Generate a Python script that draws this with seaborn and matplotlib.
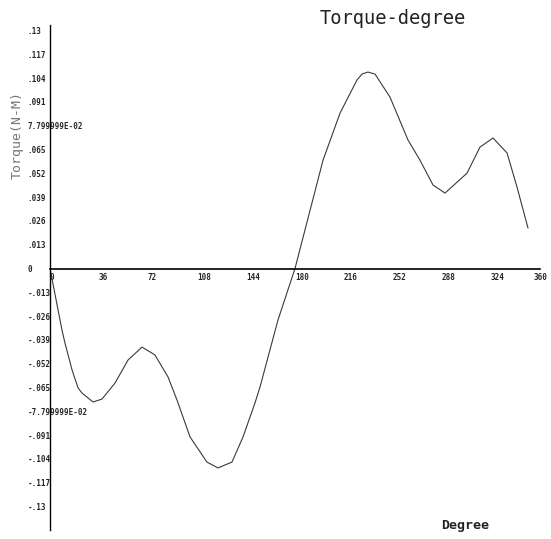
import numpy as np
import matplotlib.pyplot as plt
import seaborn as sns
import pandas as pd

# valores (grados, torque)
grados = [0, 8.8, 11.0, 16.2, 20.6, 23.5, 31.6, 38.2, 47.8, 57.3, 67.6, 77.1, 86.7,
          93.3, 102.9, 115.3, 123.4, 133.7, 141.8, 150.6, 154.3, 167.5, 180.0,
          200.6, 213.1, 225.5, 229.2, 233.6, 238.8, 249.8, 263.0, 271.8, 281.4, 290.2,
          306.4, 315.9, 325.5, 335.8, 343.1, 351.2]
torque = [0.0, -0.0336, -0.0407, -0.0554, -0.0652, -0.0680, -0.0729, -0.0713, -0.0625,
          -0.0500, -0.0429, -0.0472, -0.0592, -0.0718, -0.0920, -0.1057, -0.1089,
          -0.1057, -0.0920, -0.0734, -0.0647, -0.0281, 0.0,
          0.0592, 0.0849, 0.1029, 0.1062, 0.1073, 0.1062, 0.0936, 0.0702, 0.0592,
          0.0456, 0.0412, 0.0521, 0.0663, 0.0713, 0.0631, 0.0445, 0.0221]

xticks = [0, 36, 72, 108, 144, 180, 216, 252, 288, 324, 360]
yticks = [0.13, 0.117, 0.104, 0.091, 0.078, 0.065, 0.052, 0.039, 0.026, 0.013, 0,
          -0.013, -0.026, -0.039, -0.052, -0.065, -0.078, -0.091, -0.104, -0.117, -0.13]
ylabels = ['.13', '.117', '.104', '.091', '7.799999E-02', '.065', '.052', '.039', '.026', '.013', '0',
           '-.013', '-.026', '-.039', '-.052', '-.065', '-7.799999E-02', '-.091', '-.104', '-.117', '-.13']

df = pd.DataFrame({'Degree': grados, 'Torque': torque})

sns.set_style('white')
plt.rcParams['font.family'] = ['DejaVu Sans Mono']

fig = plt.figure(figsize=(5.51, 5.39), dpi=100)
ax = fig.add_axes([50 / 551, 1 - 530 / 539, 490 / 551, 505 / 539])

sns.lineplot(data=df, x='Degree', y='Torque', ax=ax, color='#3a3a3a', linewidth=0.8)

ax.set_xlim(0, 360)
ax.set_ylim(-0.1428, 0.133)

ax.spines['top'].set_visible(False)
ax.spines['right'].set_visible(False)
ax.spines['bottom'].set_position(('data', 0))
ax.spines['left'].set_color('black')
ax.spines['bottom'].set_color('black')
ax.spines['left'].set_linewidth(1.0)
ax.spines['bottom'].set_linewidth(1.2)

ax.set_xticks(xticks)
ax.set_xticklabels([str(t) for t in xticks], fontsize=5.5, fontweight='bold')
for lab in ax.get_xticklabels():
    lab.set_ha('left')
ax.get_xticklabels()[-1].set_ha('center')
ax.tick_params(axis='x', length=0, pad=3)

ax.set_yticks(yticks)
ax.set_yticklabels(ylabels, fontsize=5.5, fontweight='bold')
for lab in ax.get_yticklabels():
    lab.set_ha('left')
ax.tick_params(axis='y', length=0, pad=16)

ax.set_xlabel('')
ax.set_ylabel('')

fig.text(393 / 551, 1 - 18 / 539, 'Torque-degree', fontsize=13.5, ha='center', va='center',
         color='#222222')
fig.text(465 / 551, 1 - 525 / 539, 'Degree', fontsize=9.5, fontweight='bold', ha='center',
         va='center', color='#222222')
fig.text(17 / 551, 1 - 135 / 539, 'Torque(N-M)', fontsize=9.5, rotation=90, ha='center',
         va='center', color='#777777')

fig.savefig('out.png', dpi=100)
